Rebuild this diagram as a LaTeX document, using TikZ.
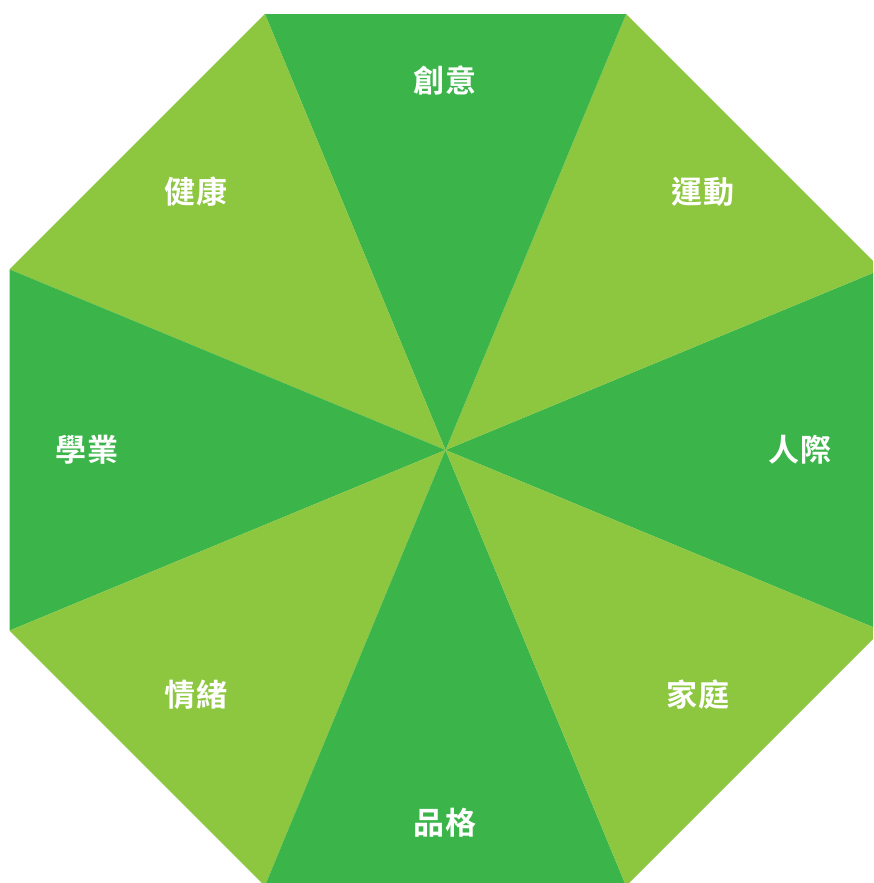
\documentclass[tikz,border=0pt]{standalone}
\usepackage{fontspec}
\usetikzlibrary{calc}
\newfontfamily\cjk{Noto Sans CJK TC}[BoldFont={Noto Sans CJK TC Bold},LetterSpace=6]
\definecolor{darkg}{HTML}{3BB54A}
\definecolor{lightg}{HTML}{8DC63F}
\begin{document}
\begin{tikzpicture}[x=1pt,y=-1pt,
  lbl/.style={text=white,font=\cjk\bfseries\fontsize{31}{31}\selectfont,inner sep=0pt}]
\useasboundingbox (0,0) rectangle (873,883);
\clip (0,0) rectangle (873,883);
\coordinate (c) at (445.5,450);
\foreach \i/\col in {0/darkg,1/lightg,2/darkg,3/lightg,4/darkg,5/lightg,6/darkg,7/lightg}{
  \pgfmathsetmacro{\aa}{-22.5+45*\i}
  \pgfmathsetmacro{\bb}{22.5+45*\i}
  \fill[\col] (c) -- ($(c)+({471.93*cos(\aa)},{-471.93*sin(\aa)})$) -- ($(c)+({471.93*cos(\bb)},{-471.93*sin(\bb)})$) -- cycle;
}
\node[lbl] (n1) at (445,80) {創意};
\node[lbl] (n2) at (703,192) {運動};
\node[lbl] (n3) at (800,450) {人際};
\node[lbl] (n4) at (698,695) {家庭};
\node[lbl] (n5) at (445,823) {品格};
\node[lbl] (n6) at (196,695) {情緒};
\node[lbl] (n7) at (87,450) {學業};
\node[lbl] (n8) at (196,192) {健康};
\end{tikzpicture}
\end{document}
